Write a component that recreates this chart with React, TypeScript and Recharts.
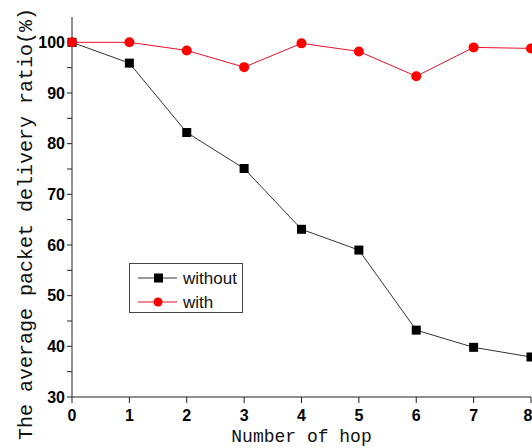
import React from 'react';
import { LineChart, Line, XAxis, YAxis, Legend } from 'recharts';

// hops on the x axis
const hops = [0, 1, 2, 3, 4, 5, 6, 7, 8];
// packet delivery ratio (%)
const withoutRatio = [100, 95.9, 82.2, 75.1, 63.1, 59.0, 43.2, 39.8, 37.9];
const withRatio = [100, 100, 98.4, 95.1, 99.8, 98.2, 93.3, 99.0, 98.8];
const yTicks = [30, 35, 40, 45, 50, 55, 60, 65, 70, 75, 80, 85, 90, 95, 100];

const data = hops.map((h, i) => ({ hop: h, without: withoutRatio[i], with: withRatio[i] }));

const tickFont = { fontFamily: 'Liberation Sans, Arial, sans-serif', fontWeight: 700, fontSize: 16, fill: '#000' };
const monoFont = 'Liberation Mono, DejaVu Sans Mono, monospace';

const SquareDot = (props: any) => {
    const { cx, cy, index } = props;
    return <rect key={'sq' + index} x={cx - 4.5} y={cy - 4.5} width={9} height={9} fill="#000" />;
};

const YTick = (props: any) => {
    const { x, y, payload } = props;
    if (payload.value % 10 !== 0) return <g />;
    return (
        <text x={x} y={y} dy="0.36em" textAnchor="end" style={tickFont}>
            {payload.value}
        </text>
    );
};

const XTick = (props: any) => {
    const { x, y, payload } = props;
    return (
        <text x={x} y={y} dy="0.75em" textAnchor="middle" style={tickFont}>
            {payload.value}
        </text>
    );
};

const LegendBox = () => (
    <svg width={115} height={51}>
        <rect x={0.5} y={0.5} width={113} height={49} fill="#fff" stroke="#444" />
        <line x1={9} x2={48} y1={15} y2={15} stroke="#333" />
        <rect x={25} y={10.5} width={9} height={9} fill="#000" />
        <text x={54} y={21} style={{ fontFamily: 'Liberation Sans, Arial, sans-serif', fontSize: 17, fill: '#111' }}>without</text>
        <line x1={9} x2={48} y1={39} y2={39} stroke="#e8102a" />
        <circle cx={29} cy={39} r={4.5} fill="#ff0000" />
        <text x={54} y={45} style={{ fontFamily: 'Liberation Sans, Arial, sans-serif', fontSize: 17, fill: '#111' }}>with</text>
    </svg>
);

export default function App() {
    return (
        <div style={{ position: 'absolute', left: 0, top: 0, background: '#fff' }}>
            <LineChart width={532} height={448} data={data} margin={{ top: 17, right: 1, bottom: 0, left: 0 }}>
                <XAxis
                    xAxisId="bottom"
                    type="number"
                    dataKey="hop"
                    domain={[0, 8]}
                    ticks={hops}
                    height={51}
                    stroke="#222"
                    tickSize={6}
                    tickMargin={6}
                    tick={<XTick />}
                    label={{
                        value: 'Number of hop',
                        position: 'insideBottom',
                        offset: 6,
                        style: { fontFamily: monoFont, fontSize: 18, fill: '#111' },
                    }}
                />
                <XAxis
                    xAxisId="top"
                    orientation="top"
                    type="number"
                    dataKey="hop"
                    domain={[0, 8]}
                    ticks={hops}
                    height={0}
                    mirror
                    stroke="#222"
                    tickSize={6}
                    tickFormatter={() => ''}
                />
                <YAxis
                    yAxisId="left"
                    type="number"
                    domain={[30, 105]}
                    ticks={yTicks}
                    width={72}
                    stroke="#222"
                    tickSize={5}
                    tickMargin={2}
                    tick={<YTick />}
                    label={{
                        content: () => (
                            <text
                                transform="translate(32,224) rotate(-90)"
                                textAnchor="middle"
                                style={{ fontFamily: monoFont, fontSize: 20, fill: '#111' }}
                            >
                                The average packet delivery ratio(%)
                            </text>
                        ),
                    }}
                />
                <YAxis
                    yAxisId="right"
                    orientation="right"
                    type="number"
                    domain={[30, 105]}
                    ticks={yTicks}
                    width={0}
                    mirror
                    stroke="#222"
                    tickSize={5}
                    tickFormatter={() => ''}
                />
                <Legend
                    layout="horizontal"
                    verticalAlign="middle"
                    align="center"
                    content={() => <LegendBox />}
                    wrapperStyle={{ position: 'absolute', left: 129, top: 263, width: 115, height: 51 }}
                />
                <Line
                    xAxisId="bottom"
                    yAxisId="left"
                    dataKey="without"
                    name="without"
                    stroke="#333"
                    strokeWidth={1}
                    dot={SquareDot}
                    isAnimationActive={false}
                />
                <Line
                    xAxisId="bottom"
                    yAxisId="left"
                    dataKey="with"
                    name="with"
                    stroke="#e8102a"
                    strokeWidth={1}
                    dot={{ r: 5, fill: '#ff0000', stroke: '#ff0000', strokeWidth: 0 }}
                    isAnimationActive={false}
                />
            </LineChart>
        </div>
    );
}
